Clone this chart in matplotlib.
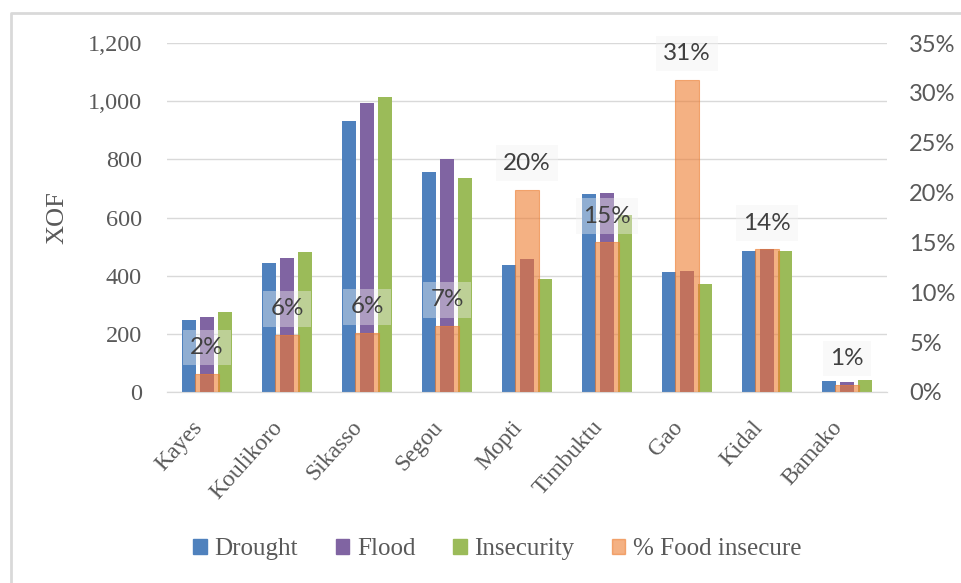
import matplotlib.pyplot as plt
from matplotlib.lines import Line2D
from matplotlib.patches import Patch
import numpy as np

regions = ["Kayes", "Koulikoro", "Sikasso", "Segou", "Mopti",
           "Timbuktu", "Gao", "Kidal", "Bamako"]
drought = [248, 443, 932, 756, 437, 681, 413, 485, 38]
flood = [258, 461, 994, 801, 457, 684, 416, 492, 36]
insecurity = [275, 481, 1014, 736, 389, 608, 371, 485, 41]
food_insecure = [0.018, 0.057, 0.059, 0.066, 0.203, 0.150, 0.313, 0.143, 0.007]

left_ticks = [0, 200, 400, 600, 800, 1000, 1200]
right_ticks = [0, 0.05, 0.10, 0.15, 0.20, 0.25, 0.30, 0.35]

blue = "#4F81BD"
purple = "#8064A2"
green = "#9BBB59"
orange = "#ED7D31"
grey_txt = "#595959"
serif = "Liberation Serif"
sans = "Lato"

fig = plt.figure(figsize=(9.62, 5.83), dpi=100)
ax = fig.add_axes([167 / 962, 1 - 392 / 583, 720 / 962, 349 / 583])
ax2 = ax.twinx()

x = np.arange(len(regions))
w = 0.175
step = 0.225
ax.bar(x - step, drought, w, color=blue, zorder=3, label="Drought")
ax.bar(x, flood, w, color=purple, zorder=3, label="Flood")
ax.bar(x + step, insecurity, w, color=green, zorder=3, label="Insecurity")

ax2.bar(x, food_insecure, 0.31, color=orange, alpha=0.6,
        edgecolor=orange, linewidth=0.8, zorder=3)

for xi, v in zip(x, food_insecure):
    ax2.annotate(f"{v:.0%}", (xi, v), xytext=(0, 19), textcoords="offset points",
                 ha="center", va="center", fontsize=17.5, family=sans,
                 color="#404040",
                 bbox=dict(boxstyle="square,pad=0.3", facecolor="#f2f2f2",
                           edgecolor="none", alpha=0.4))

ax.set_xlim(-0.5, len(regions) - 0.5)
ax.set_ylim(0, 1200)
ax2.set_ylim(0, 0.35)
ax.set_yticks(left_ticks)
ax.set_yticklabels([f"{t:,}" for t in left_ticks], family=serif, fontsize=17.5,
                   color=grey_txt)
ax2.set_yticks(right_ticks)
ax2.set_yticklabels([f"{t:.0%}" for t in right_ticks], family=sans, fontsize=17,
                    color=grey_txt)
ax.set_xticks(x)
ax.set_xticklabels(regions, rotation=48, ha="right", va="bottom",
                   rotation_mode="anchor", family=serif, fontsize=17,
                   color=grey_txt)
ax.tick_params(axis="x", length=0, pad=28)
ax.tick_params(axis="y", length=0, pad=18)
ax2.tick_params(axis="y", length=0, pad=16)
ax.set_ylabel("XOF", family=serif, fontsize=19, color=grey_txt, labelpad=14)

ax.grid(axis="y", color="#d9d9d9", linewidth=1, zorder=0)
for a in (ax, ax2):
    for side in ("left", "right", "top"):
        a.spines[side].set_visible(False)
    a.spines["bottom"].set_color("#d9d9d9")

handles = [Patch(color=blue), Patch(color=purple), Patch(color=green),
           Patch(color=orange, alpha=0.6)]
fig.legend(handles, ["Drought", "Flood", "Insecurity", "% Food insecure"],
           loc="center", bbox_to_anchor=(0.517, 1 - 549 / 583), ncol=4,
           frameon=False, prop={"family": serif, "size": 18},
           handlelength=0.55, handleheight=0.55, handletextpad=0.3,
           columnspacing=1.5, labelcolor=grey_txt)

# chart frame
fig.add_artist(Line2D([11 / 962, 11 / 962, 1], [0, 1 - 13 / 583, 1 - 13 / 583],
                      color="#d9d9d9", linewidth=2))

fig.savefig("out.png", dpi=100)
